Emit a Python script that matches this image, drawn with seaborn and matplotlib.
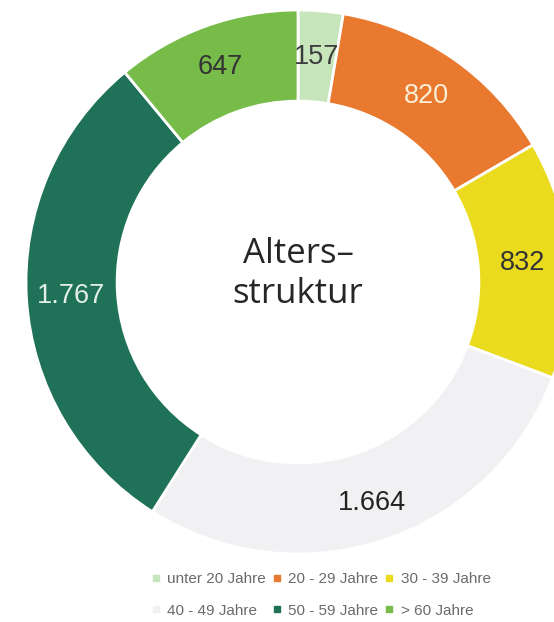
import numpy as np
import matplotlib
matplotlib.use("Agg")
import matplotlib.pyplot as plt
from matplotlib.lines import Line2D
import seaborn as sns

# data
groups = ["unter 20 Jahre", "20 - 29 Jahre", "30 - 39 Jahre",
          "40 - 49 Jahre", "50 - 59 Jahre", "> 60 Jahre"]
counts = [157, 820, 832, 1664, 1767, 647]
colors = ["#c6e5ba", "#e8792e", "#eadb1f", "#f1f1f3", "#1f7158", "#77bb48"]
label_colors = ["#3d3d3d", "#fbeed6", "#333333", "#222222", "#e3efe8", "#333333"]
label_radius = [0.83, 0.83, 0.83, 0.855, 0.835, 0.84]

sns.set_style("white")
num_font = ["Liberation Sans", "DejaVu Sans"]

fig = plt.figure(figsize=(5.54, 6.22), dpi=100)
ax = fig.add_axes([0, 0, 1, 1])

wedges, _ = ax.pie(counts, colors=colors, startangle=90, counterclock=False,
                   wedgeprops=dict(width=0.335, edgecolor="white", linewidth=2))

# ring centre sits at (298, 282) px, radius 272 px; right side is cropped
ax.set_xlim(-298 / 272, (554 - 298) / 272)
ax.set_ylim(-340 / 272, 282 / 272)
ax.set_aspect("equal")
ax.axis("off")

for w, v, c, r in zip(wedges, counts, label_colors, label_radius):
    ang = np.deg2rad((w.theta1 + w.theta2) / 2)
    txt = f"{v:,}".replace(",", ".")
    ax.text(r * np.cos(ang), r * np.sin(ang), txt, ha="center", va="center",
            fontsize=19.5, color=c, family=num_font)

title_font = ["Open Sans", "DejaVu Sans"]
ax.text(0.0, 0.07, "Alters\u2013", ha="center", va="baseline",
        fontsize=25, color="#262626", family=title_font, fontweight="medium")
ax.text(0.0, -0.077, "struktur", ha="center", va="baseline",
        fontsize=25, color="#262626", family=title_font, fontweight="medium")

# legend, filled column by column: 3 columns x 2 rows
order = [0, 3, 1, 4, 2, 5]
handles = [Line2D([], [], marker="s", linestyle="none", markersize=5,
                  markerfacecolor=colors[i], markeredgecolor=colors[i],
                  label=groups[i]) for i in order]
fig.legend(handles=handles, ncol=3, loc="center",
           bbox_to_anchor=(321 / 554, 1 - 595 / 622), frameon=False,
           prop={"family": num_font, "size": 11}, labelcolor="#6a6a6a",
           handlelength=0.6, handletextpad=0.45, columnspacing=0.4,
           labelspacing=1.15)

fig.savefig("out.png", dpi=100)
